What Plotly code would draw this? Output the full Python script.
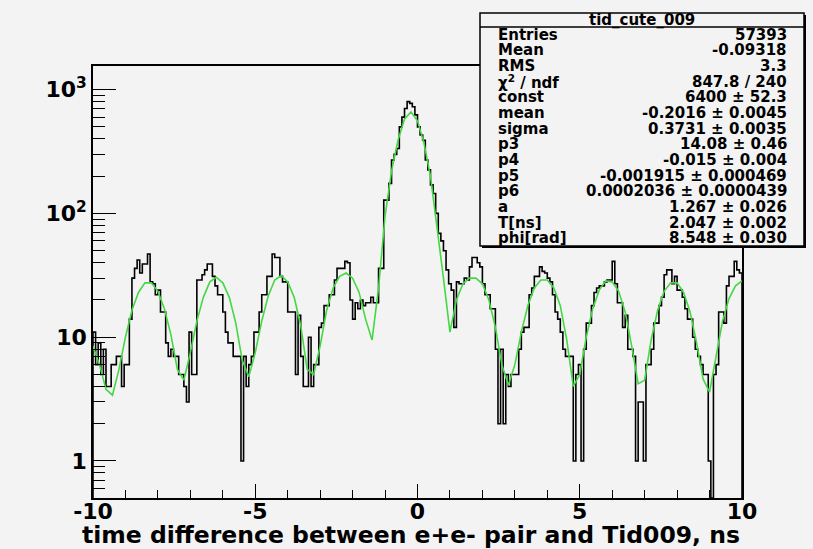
import numpy as np
import plotly.graph_objects as go

# Histogram binning: 250 bins of 0.08 ns between -10 and 10 ns
x_lo, x_hi, n_bins = -10.0, 10.0, 250

# Bin contents, left to right
counts = [
    11, 6, 9, 5, 8, 4, 4, 6, 6, 7,
    7, 4, 6, 6, 14, 30, 36, 42, 33, 39,
    39, 47, 28, 27, 22, 24, 16, 16, 9, 7,
    8, 7, 7, 5, 5, 4, 3, 11, 5, 5,
    29, 29, 32, 35, 39, 39, 31, 26, 22, 22,
    16, 11, 9, 9, 7, 7, 7, 1, 7, 4,
    6, 7, 11, 11, 16, 22, 22, 31, 31, 47,
    44, 44, 31, 28, 28, 16, 16, 16, 5, 15,
    7, 4, 4, 10, 4, 6, 6, 12, 13, 18,
    18, 22, 22, 29, 36, 36, 36, 41, 40, 20,
    14, 19, 17, 20, 18, 19, 19, 21, 19, 19,
    36, 36, 128, 128, 175, 270, 300, 335, 500, 600,
    705, 800, 775, 728, 625, 500, 430, 390, 270, 225,
    170, 145, 100, 69, 60, 50, 35, 27, 24, 12,
    28, 27, 27, 30, 29, 37, 44, 44, 40, 37,
    27, 22, 22, 17, 17, 8, 2, 8, 2, 5,
    4, 5, 5, 5, 8, 11, 12, 12, 22, 25,
    31, 31, 37, 34, 33, 30, 28, 22, 16, 14,
    11, 8, 7, 7, 7, 1, 5, 6, 1, 8,
    13, 13, 18, 23, 25, 26, 26, 28, 29, 29,
    41, 27, 19, 19, 12, 15, 8, 8, 7, 1,
    3, 3, 1, 6, 6, 8, 13, 13, 18, 21,
    32, 35, 35, 27, 31, 24, 24, 21, 17, 14,
    14, 10, 8, 7, 6, 5, 5, 1, 0, 5,
    6, 16, 16, 13, 26, 31, 31, 41, 35, 33,
]

# Fitted function sampled every 0.2 ns from -10 to 10
fit_vals = [
    8.5, 6.0, 3.8, 3.4, 5.5, 10.0, 16.5, 23, 27.5, 27.5,
    23.5, 17, 10.5, 5.5, 4.5, 7.5, 13.5, 21, 28, 30.5,
    27.5, 21, 13, 6.5, 4.8, 7.5, 13.5, 21.5, 29, 31.5,
    28, 21, 12.5, 5.5, 5.0, 8.5, 16.5, 25, 31, 33,
    30, 23, 14, 9.5, 25, 95, 220, 390, 580, 660,
    560, 370, 200, 80, 30, 11, 20, 27, 30, 30,
    27, 20, 12, 6, 4.1, 6, 11, 18, 25, 29,
    29, 25, 18, 9.5, 4.0, 5, 10, 17, 24, 28.5,
    28, 23.5, 16, 8.5, 4.2, 4.5, 9.5, 16.5, 23.5, 27.5,
    27.5, 23, 16, 9, 4.6, 3.6, 7, 13.5, 20.5, 26,
    28.5,
]

# Log-scale tick layout
y_major = [1, 10, 100, 1000]
y_major_text = ["1", "10", "10<sup>2</sup>", "10<sup>3</sup>"]
y_minor = [0.6, 0.7, 0.8, 0.9] + [m * d for d in (1, 10, 100) for m in range(2, 10)]
x_major = [-10, -5, 0, 5, 10]
x_major_text = ["-10", "-5", "0", "5", "10"]
x_minor = [v for v in range(-9, 10) if v % 5 != 0]

x_title = "time difference between e+e- pair and Tid009, ns"

# Fit statistics panel
stats_title = "tid_cute_009"
stats_names = ["Entries", "Mean", "RMS", "\u03c7<sup>2</sup> / ndf", "const", "mean",
               "sigma", "p3", "p4", "p5", "p6", "a", "T[ns]", "phi[rad]"]
stats_values = ["57393", "-0.09318", "3.3", "847.8 / 240", "6400 \u00b1 52.3",
                "-0.2016 \u00b1 0.0045", "0.3731 \u00b1 0.0035", "14.08 \u00b1 0.46",
                "-0.015 \u00b1 0.004", "-0.001915 \u00b1 0.000469",
                "0.0002036 \u00b1 0.0000439", "1.267 \u00b1 0.026",
                "2.047 \u00b1 0.002", "8.548 \u00b1 0.030"]

# ---------------------------------------------------------------------------
W, H = 813, 549
L, R, T, B = 93, 71, 66, 51
y_log_range = [-0.299, 3.191]
y_floor = 10 ** y_log_range[0]
BG = "#f3f3f3"
FONT = "DejaVu Sans"

edges = np.linspace(x_lo, x_hi, n_bins + 1)
cnt = np.asarray(counts, dtype=float)
drawn = np.where(cnt > 0, cnt, y_floor)   # empty bins drop to the frame floor

# step outline closed down to the floor at both ends
hx = np.concatenate([[edges[0]], edges[:-1], [edges[-1]]])
hy = np.concatenate([[y_floor], drawn, [y_floor]])

fit_x = np.round(np.arange(len(fit_vals)) * 0.2 + x_lo, 2)

fig = go.Figure()
fig.add_trace(go.Scatter(x=hx, y=hy, mode="lines", line=dict(shape="hv", color="black", width=1.6),
                         hoverinfo="skip", showlegend=False))
fig.add_trace(go.Scatter(x=fit_x, y=fit_vals, mode="lines", line=dict(color="#44d844", width=1.6),
                         hoverinfo="skip", showlegend=False))

tick_font = dict(family=FONT, size=22, color="black", weight="bold")
fig.update_xaxes(range=[x_lo, x_hi], tickmode="array", tickvals=x_major, ticktext=x_major_text,
                 ticks="inside", ticklen=14, tickwidth=1.2, tickcolor="black",
                 minor=dict(tickmode="array", tickvals=x_minor, ticks="inside", ticklen=8,
                            tickwidth=1.2, tickcolor="black"),
                 showline=True, linecolor="black", linewidth=1.6, mirror=True,
                 showgrid=False, zeroline=False, tickfont=tick_font, ticklabelstandoff=-7)
fig.update_yaxes(type="log", range=y_log_range, tickmode="array", tickvals=y_major,
                 ticktext=y_major_text, ticks="inside", ticklen=23, tickwidth=1.2, tickcolor="black",
                 minor=dict(tickmode="array", tickvals=y_minor, ticks="inside", ticklen=12,
                            tickwidth=1.2, tickcolor="black"),
                 showline=True, linecolor="black", linewidth=1.6, mirror=True,
                 showgrid=False, zeroline=False, tickfont=tick_font)

pw, ph = W - L - R, H - T - B


def px(xp):
    return (xp - L) / pw


def py(yp):
    return (H - B - yp) / ph


annotations = [dict(text=x_title, x=1.0, y=py(535), xref="paper", yref="paper",
                    xanchor="right", yanchor="middle", showarrow=False,
                    font=dict(family=FONT, size=23.5, color="black", weight="bold"))]

# stats panel geometry (pixels)
bx0, bx1, by0, by1 = 480, 804, 13, 246
sep = 27
row_h = (by1 - sep) / len(stats_names)
shapes = [
    dict(type="rect", xref="paper", yref="paper", x0=px(bx0 + 2), x1=px(bx1 + 2),
         y0=py(by1 + 2), y1=py(by0 + 2), line=dict(width=0), fillcolor="black", layer="above"),
    dict(type="rect", xref="paper", yref="paper", x0=px(bx0), x1=px(bx1),
         y0=py(by1), y1=py(by0), line=dict(color="black", width=1.5), fillcolor=BG, layer="above"),
    dict(type="line", xref="paper", yref="paper", x0=px(bx0), x1=px(bx1),
         y0=py(sep), y1=py(sep), line=dict(color="black", width=1.5), layer="above"),
]
stat_font = dict(family=FONT, size=15, color="black", weight="bold")
annotations.append(dict(text=stats_title, x=px((bx0 + bx1) / 2), y=py((by0 + sep) / 2 + 0.5),
                        xref="paper", yref="paper", xanchor="center", yanchor="middle",
                        showarrow=False, font=stat_font))
for i, (name, val) in enumerate(zip(stats_names, stats_values)):
    yc = py(sep + row_h * (i + 0.5))
    annotations.append(dict(text=name, x=px(496), y=yc, xref="paper", yref="paper",
                            xanchor="left", yanchor="middle", showarrow=False, font=stat_font))
    annotations.append(dict(text=val, x=px(789), y=yc, xref="paper", yref="paper",
                            xanchor="right", yanchor="middle", showarrow=False, font=stat_font))

fig.update_layout(width=W, height=H, autosize=False,
                  margin=dict(l=L, r=R, t=T, b=B, pad=0),
                  paper_bgcolor=BG, plot_bgcolor=BG,
                  shapes=shapes, annotations=annotations, showlegend=False)

fig.write_html("out.html")
